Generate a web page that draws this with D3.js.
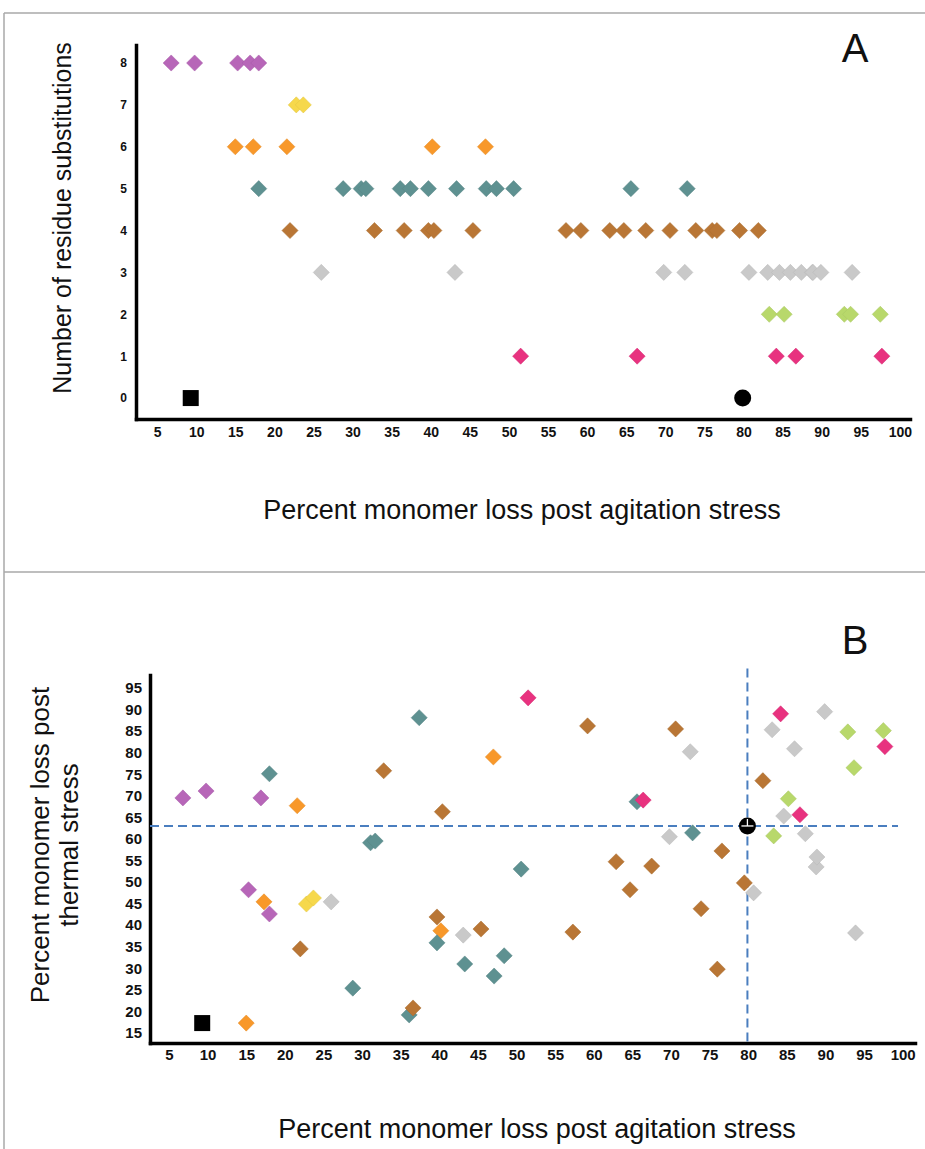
<!DOCTYPE html>
<html>
<head>
<meta charset="utf-8">
<script src="https://cdn.jsdelivr.net/npm/d3@7"></script>
<style>
  body { margin: 0; background: #fff; }
  svg { display: block; }
  .axis text { font-family: "Liberation Sans", Arial, sans-serif; font-weight: bold; fill: #111; }
  .axis.narrow text { font-family: "Liberation Sans Narrow", "Arial Narrow", "Liberation Sans", sans-serif; }
  .title { font-family: "Liberation Sans", Arial, sans-serif; fill: #111; }
</style>
</head>
<body>
<div id="chart"></div>
<script>
var width = 925;
var height = 1149;

// tick labels
var agitationTicks = [5, 10, 15, 20, 25, 30, 35, 40, 45, 50, 55, 60, 65, 70, 75, 80, 85, 90, 95, 100];
var substitutionTicks = [0, 1, 2, 3, 4, 5, 6, 7, 8];
var thermalTicks = [15, 20, 25, 30, 35, 40, 45, 50, 55, 60, 65, 70, 75, 80, 85, 90, 95];

// one colour per number of residue substitutions
var groupSubs = [8, 7, 6, 5, 4, 3, 2, 1];
var groupColors = ['#b766b8', '#f6d84c', '#f8982a', '#5e9191', '#b97635', '#c9c9c9', '#b8d86b', '#e8327f'];

// percent monomer loss: agitation stress (x) and thermal stress (panel B y)
var agitation8 = [6.8, 9.8, 15.3, 16.9, 18.0];
var thermal8 = [69.5, 71.1, 48.2, 69.5, 42.6];

var agitation7 = [22.8, 23.7];
var thermal7 = [44.9, 46.3];

var agitation6 = [15.0, 17.3, 21.6, 40.2, 47.0];
var thermal6 = [17.3, 45.4, 67.7, 38.7, 79.0];

var agitation5 = [18.0, 28.8, 31.1, 31.7, 36.1, 37.4, 39.7, 43.3, 47.1, 48.4, 50.6, 65.6, 72.8];
var thermal5 = [75.1, 25.4, 59.1, 59.5, 19.2, 88.1, 35.9, 31.0, 28.2, 32.9, 53.0, 68.6, 61.4];

var agitation4 = [22.0, 32.8, 36.6, 39.7, 40.4, 45.4, 57.3, 59.2, 62.9, 64.7, 67.5, 70.6, 73.9, 76.0, 76.6, 79.5, 81.9];
var thermal4 = [34.5, 75.8, 20.8, 41.9, 66.3, 39.1, 38.4, 86.2, 54.7, 48.2, 53.7, 85.5, 43.8, 29.8, 57.2, 49.8, 73.5];

var agitation3 = [26.0, 43.1, 69.8, 72.5, 80.7, 83.1, 84.6, 86.0, 87.4, 88.8, 88.9, 89.9, 93.9];
var thermal3 = [45.4, 37.7, 60.5, 80.2, 47.5, 85.3, 65.3, 80.9, 61.2, 53.5, 55.8, 89.5, 38.2];

var agitation2 = [83.3, 85.2, 92.9, 93.7, 97.5];
var thermal2 = [60.7, 69.3, 84.8, 76.5, 85.1];

var agitation1 = [51.5, 66.4, 84.2, 86.7, 97.7];
var thermal1 = [92.7, 69.0, 89.0, 65.6, 81.4];

// reference molecules (0 substitutions): square and circle
var refShapes = ['square', 'circle'];
var refAgitation = [9.3, 79.9];
var refThermal = [17.3, 63.0];

var groupAgitation = [agitation8, agitation7, agitation6, agitation5, agitation4, agitation3, agitation2, agitation1];
var groupThermal = [thermal8, thermal7, thermal6, thermal5, thermal4, thermal3, thermal2, thermal1];

var points = [];
groupSubs.forEach(function (s, i) {
    groupAgitation[i].forEach(function (a, j) {
        points.push({ subs: s, agitation: a, thermal: groupThermal[i][j], color: groupColors[i] });
    });
});
var refs = refShapes.map(function (shape, i) {
    return { shape: shape, subs: 0, agitation: refAgitation[i], thermal: refThermal[i] };
});

var svg = d3.select("#chart")
    .append("svg")
    .attr("width", width)
    .attr("height", height);

// panel frame
var frame = svg.append("g").attr("stroke", "#a8a8a8").attr("stroke-width", 1.5);
frame.append("line").attr("x1", 4).attr("x2", width).attr("y1", 13).attr("y2", 13);
frame.append("line").attr("x1", 4).attr("x2", 4).attr("y1", 13).attr("y2", height);
frame.append("line").attr("x1", 4).attr("x2", width).attr("y1", 572).attr("y2", 572);

var diamond = d3.symbol().type(d3.symbolSquare).size(130);

function styleAxis(g, fontSize) {
    g.attr("font-size", fontSize);
    g.select(".domain")
        .style("stroke", "#000")
        .style("stroke-width", "3.5px")
        .style("stroke-linecap", "square");
}

function drawPoints(g, x, y, yKey) {
    g.selectAll("path.pt")
        .data(points)
        .enter()
        .append("path")
        .attr("class", "pt")
        .attr("d", diamond)
        .attr("transform", function (d) { return "translate(" + x(d.agitation) + "," + y(d[yKey]) + ") rotate(45)"; })
        .style("fill", function (d) { return d.color; })
        .style("stroke", function (d) { return d3.color(d.color).darker(0.25); })
        .style("stroke-width", 0.8)
        .style("stroke-opacity", 0.6);

    g.selectAll("rect.ref")
        .data(refs.filter(function (d) { return d.shape == 'square'; }))
        .enter()
        .append("rect")
        .attr("class", "ref")
        .attr("x", function (d) { return x(d.agitation) - 8; })
        .attr("y", function (d) { return y(d[yKey]) - 8; })
        .attr("width", 16)
        .attr("height", 16)
        .style("fill", "#000");

    g.selectAll("circle.ref")
        .data(refs.filter(function (d) { return d.shape == 'circle'; }))
        .enter()
        .append("circle")
        .attr("class", "ref")
        .attr("cx", function (d) { return x(d.agitation); })
        .attr("cy", function (d) { return y(d[yKey]); })
        .attr("r", 8.5)
        .style("fill", "#000");
}

// ---------- Panel A ----------
var xA = d3.scaleLinear().domain([2.3, 101.3]).range([136, 910]);
var yA = d3.scaleLinear().domain([-0.5, 8.43]).range([419, 45]);

var gA = svg.append("g");

gA.append("g")
    .attr("class", "axis")
    .attr("transform", "translate(0," + yA.range()[0] + ")")
    .call(d3.axisBottom(xA).tickValues(agitationTicks).tickSize(0).tickPadding(8))
    .call(styleAxis, 14);

gA.append("g")
    .attr("class", "axis narrow")
    .attr("transform", "translate(" + xA.range()[0] + ",0)")
    .call(d3.axisLeft(yA).tickValues(substitutionTicks).tickSize(0).tickPadding(9))
    .call(styleAxis, 12);

drawPoints(gA, xA, yA, "subs");

gA.append("text")
    .attr("class", "title")
    .attr("transform", "translate(71,218) rotate(-90)")
    .attr("text-anchor", "middle")
    .attr("font-size", 25)
    .text("Number of residue substitutions");

gA.append("text")
    .attr("class", "title")
    .attr("x", 522)
    .attr("y", 519)
    .attr("text-anchor", "middle")
    .attr("font-size", 27)
    .text("Percent monomer loss post agitation stress");

gA.append("text")
    .attr("class", "title")
    .attr("x", 855)
    .attr("y", 62)
    .attr("text-anchor", "middle")
    .attr("font-size", 40)
    .text("A");

// ---------- Panel B ----------
var xB = d3.scaleLinear().domain([2.54, 101.6]).range([150, 915]);
var yB = d3.scaleLinear().domain([12.68, 98.0]).range([1043, 675]);

var gB = svg.append("g");

gB.append("g")
    .attr("class", "axis")
    .attr("transform", "translate(0," + yB.range()[0] + ")")
    .call(d3.axisBottom(xB).tickValues(agitationTicks).tickSize(0).tickPadding(6))
    .call(styleAxis, 15);

gB.append("g")
    .attr("class", "axis")
    .attr("transform", "translate(" + xB.range()[0] + ",0)")
    .call(d3.axisLeft(yB).tickValues(thermalTicks).tickSize(0).tickPadding(8))
    .call(styleAxis, 15);

// dashed lines through the reference circle
var circleRef = refs[1];
var dash = gB.append("g")
    .attr("stroke", "#4a7ebf")
    .attr("stroke-width", 2)
    .attr("stroke-dasharray", "9,5");
dash.append("line")
    .attr("x1", xB.range()[0]).attr("x2", xB(99.4))
    .attr("y1", yB(circleRef.thermal)).attr("y2", yB(circleRef.thermal));
dash.append("line")
    .attr("x1", xB(circleRef.agitation)).attr("x2", xB(circleRef.agitation))
    .attr("y1", yB(99.5)).attr("y2", yB.range()[0]);

drawPoints(gB, xB, yB, "thermal");

// the dashed lines show through the circle as thin white marks
var cx = xB(circleRef.agitation), cy = yB(circleRef.thermal);
var cross = gB.append("g").attr("stroke", "#fff").attr("stroke-width", 1.3);
cross.append("line").attr("x1", cx - 6).attr("x2", cx + 6).attr("y1", cy).attr("y2", cy);
cross.append("line").attr("x1", cx).attr("x2", cx).attr("y1", cy - 7).attr("y2", cy);

gB.append("text")
    .attr("class", "title")
    .attr("transform", "translate(0,845) rotate(-90)")
    .attr("text-anchor", "middle")
    .attr("font-size", 26)
    .selectAll("tspan")
    .data(["Percent monomer loss post", "thermal stress"])
    .enter()
    .append("tspan")
    .attr("x", 0)
    .attr("y", function (d, i) { return 49 + i * 29; })
    .text(function (d) { return d; });

gB.append("text")
    .attr("class", "title")
    .attr("x", 537)
    .attr("y", 1138)
    .attr("text-anchor", "middle")
    .attr("font-size", 27)
    .text("Percent monomer loss post agitation stress");

gB.append("text")
    .attr("class", "title")
    .attr("x", 855)
    .attr("y", 654)
    .attr("text-anchor", "middle")
    .attr("font-size", 40)
    .text("B");
</script>
</body>
</html>
